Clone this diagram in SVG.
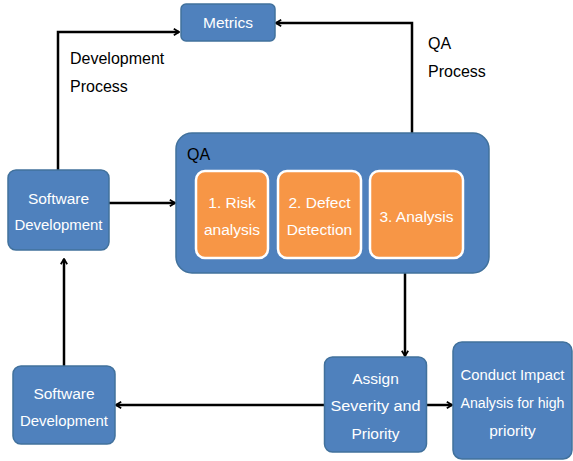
<svg xmlns="http://www.w3.org/2000/svg" width="573" height="461" viewBox="0 0 573 461">
<defs>
<marker id="arr" viewBox="0 0 10 10" refX="8.5" refY="5" markerWidth="8" markerHeight="8" orient="auto" markerUnits="userSpaceOnUse">
<path d="M2,1 L8.5,5 L2,9" fill="none" stroke="#000" stroke-width="2.2"/>
</marker>
<style>
.b{fill:#4F81BD;stroke:#41719C;stroke-width:1.5}
.o{fill:#F79646;stroke:#fff;stroke-width:2.5}
.t{font-family:"Liberation Sans",Arial,sans-serif;font-size:15.5px;fill:#fff;text-anchor:middle;dominant-baseline:central}
.k{font-family:"Liberation Sans",Arial,sans-serif;font-size:16px;fill:#000;dominant-baseline:central}
.c{fill:none;stroke:#000;stroke-width:2.5}
</style>
</defs>
<g id="connectors">
<path class="c" d="M58,170 V32 H179" marker-end="url(#arr)"/>
<path class="c" d="M412,133 V23 H276" marker-end="url(#arr)"/>
<path class="c" d="M109,203 H175" marker-end="url(#arr)"/>
<path class="c" d="M64,366 V259" marker-end="url(#arr)"/>
<path class="c" d="M405,258 V356" marker-end="url(#arr)"/>
<path class="c" d="M324,405 H116" marker-end="url(#arr)"/>
<path class="c" d="M426,405 H452" marker-end="url(#arr)"/>
</g>
<g id="label-dev"><text class="k" x="70" y="58">Development</text><text class="k" x="70" y="86">Process</text></g>
<g id="label-qa"><text class="k" x="428" y="43">QA</text><text class="k" x="428" y="71">Process</text></g>
<g id="metrics"><rect class="b" x="181" y="4" width="94" height="37" rx="5"/><text class="t" x="228" y="22">Metrics</text></g>
<g id="qa"><rect class="b" x="176" y="133" width="313" height="140" rx="16"/><text class="k" x="187" y="154">QA</text></g>
<g id="risk"><rect class="o" x="196" y="171" width="72" height="87" rx="9"/><text class="t" x="232" y="202">1. Risk</text><text class="t" x="232" y="229">analysis</text></g>
<g id="defect"><rect class="o" x="278" y="171" width="83" height="87" rx="9"/><text class="t" x="319.5" y="202">2. Defect</text><text class="t" x="319.5" y="229">Detection</text></g>
<g id="analysis"><rect class="o" x="370" y="171" width="93" height="87" rx="9"/><text class="t" x="416.5" y="216">3. Analysis</text></g>
<g id="sd-top"><rect class="b" x="8" y="170" width="101" height="80" rx="8"/><text class="t" x="58.5" y="198">Software</text><text class="t" x="58.5" y="224" textLength="88" lengthAdjust="spacingAndGlyphs">Development</text></g>
<g id="sd-bottom"><rect class="b" x="13" y="366" width="102" height="78" rx="8"/><text class="t" x="64" y="393">Software</text><text class="t" x="64" y="420" textLength="88" lengthAdjust="spacingAndGlyphs">Development</text></g>
<g id="assign"><rect class="b" x="324.5" y="357" width="102" height="95" rx="8"/><text class="t" x="375.5" y="378">Assign</text><text class="t" x="375.5" y="405" textLength="90" lengthAdjust="spacingAndGlyphs">Severity and</text><text class="t" x="375.5" y="433">Priority</text></g>
<g id="conduct"><rect class="b" x="453" y="342" width="119" height="117" rx="9"/><text class="t" x="512.5" y="374" textLength="104" lengthAdjust="spacingAndGlyphs">Conduct Impact</text><text class="t" x="512.5" y="402" textLength="104" lengthAdjust="spacingAndGlyphs">Analysis for high</text><text class="t" x="512.5" y="430">priority</text></g>
</svg>
